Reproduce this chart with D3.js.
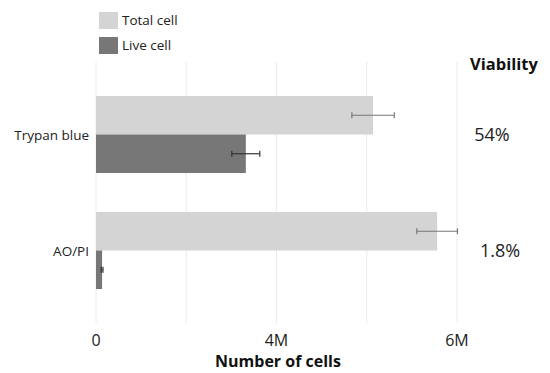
<!DOCTYPE html>
<html>
<head>
<meta charset="UTF-8">
<style>
  body { margin: 0; background: #fff; }
  svg { font-family: "Open Sans", "Noto Sans", sans-serif; }
</style>
</head>
<body>
<svg></svg>
<script src="https://d3js.org/d3.v7.min.js"></script>
<script>
let width = 550, height = 373;

// data
let methods = ["Trypan blue", "AO/PI"];
let series = ["Total cell", "Live cell"];
let totalCells = [6.14e6, 7.56e6];
let totalErr = [0.47e6, 0.45e6];
let liveCells = [3.32e6, 0.135e6];
let liveErr = [0.31e6, 0.02e6];
let viability = ["54%", "1.8%"];
let gridVals = [0, 2e6, 4e6, 6e6, 8e6];
let tickVals = [0, 4e6, 8e6];
let tickLabels = ["0", "4M", "6M"];

let colors = { "Total cell": "#d4d4d4", "Live cell": "#777777" };
let errColors = { "Total cell": "#777777", "Live cell": "#333333" };

let svg = d3.select("svg").attr("width", width).attr("height", height);

let x = d3.scaleLinear().domain([0, 8e6]).range([96, 457]);
let y = d3.scaleBand().domain(methods).range([62, 323]).paddingInner(0.336).paddingOuter(0.293);
let ySub = d3.scaleBand().domain(series).range([0, y.bandwidth()]);

// gridlines
svg.append("g")
  .selectAll("line")
  .data(gridVals)
  .enter()
  .append("line")
  .attr("x1", d => x(d)).attr("x2", d => x(d))
  .attr("y1", 62).attr("y2", 323)
  .attr("stroke", "#ececec")
  .attr("stroke-width", 1);

// bars
let rows = [];
methods.forEach((m, i) => {
  rows.push({ method: m, s: "Total cell", v: totalCells[i], e: totalErr[i] });
  rows.push({ method: m, s: "Live cell", v: liveCells[i], e: liveErr[i] });
});

svg.append("g")
  .selectAll("rect")
  .data(rows)
  .enter()
  .append("rect")
  .attr("x", x(0))
  .attr("y", d => y(d.method) + ySub(d.s))
  .attr("width", d => x(d.v) - x(0))
  .attr("height", ySub.bandwidth())
  .attr("fill", d => colors[d.s]);

// error bars
let err = svg.append("g")
  .selectAll("g")
  .data(rows)
  .enter()
  .append("g")
  .attr("stroke", d => errColors[d.s])
  .attr("stroke-width", 1.2);

err.append("line")
  .attr("x1", d => x(d.v - d.e)).attr("x2", d => x(d.v + d.e))
  .attr("y1", d => y(d.method) + ySub(d.s) + ySub.bandwidth() / 2)
  .attr("y2", d => y(d.method) + ySub(d.s) + ySub.bandwidth() / 2);
err.selectAll("line.cap")
  .data(d => [d.v - d.e, d.v + d.e].map(v => ({ v: v, r: d })))
  .enter()
  .append("line")
  .attr("class", "cap")
  .attr("x1", d => x(d.v)).attr("x2", d => x(d.v))
  .attr("y1", d => y(d.r.method) + ySub(d.r.s) + ySub.bandwidth() / 2 - 3)
  .attr("y2", d => y(d.r.method) + ySub(d.r.s) + ySub.bandwidth() / 2 + 3);

// category labels
svg.append("g")
  .selectAll("text")
  .data(methods)
  .enter()
  .append("text")
  .attr("x", 89)
  .attr("y", d => y(d) + y.bandwidth() / 2 + 5)
  .attr("text-anchor", "end")
  .attr("font-size", 13.5)
  .attr("fill", "#222")
  .text(d => d);

// x tick labels
svg.append("g")
  .selectAll("text")
  .data(tickVals)
  .enter()
  .append("text")
  .attr("x", d => x(d))
  .attr("y", 346)
  .attr("text-anchor", "middle")
  .attr("font-size", 16)
  .attr("fill", "#222")
  .text((d, i) => tickLabels[i]);

svg.append("text")
  .attr("x", 278).attr("y", 367)
  .attr("text-anchor", "middle")
  .attr("font-size", 16).attr("font-weight", "bold")
  .attr("fill", "#111")
  .text("Number of cells");

// viability column
svg.append("text")
  .attr("x", 504).attr("y", 70)
  .attr("text-anchor", "middle")
  .attr("font-size", 16.5).attr("font-weight", "bold")
  .attr("fill", "#111")
  .text("Viability");

svg.append("g")
  .selectAll("text")
  .data(viability)
  .enter()
  .append("text")
  .attr("x", (d, i) => i == 0 ? 492 : 500)
  .attr("y", (d, i) => y(methods[i]) + y.bandwidth() / 2 + 6)
  .attr("text-anchor", "middle")
  .attr("font-size", 18)
  .attr("fill", "#222")
  .text(d => d);

// legend
let legend = svg.append("g")
  .selectAll("g")
  .data(series)
  .enter()
  .append("g")
  .attr("transform", (d, i) => "translate(99," + (12 + i * 25) + ")");
legend.append("rect")
  .attr("width", 19).attr("height", 17)
  .attr("fill", d => colors[d]);
legend.append("text")
  .attr("x", 23).attr("y", 13)
  .attr("font-size", 13.5)
  .attr("fill", "#222")
  .text(d => d);
</script>
</body>
</html>
